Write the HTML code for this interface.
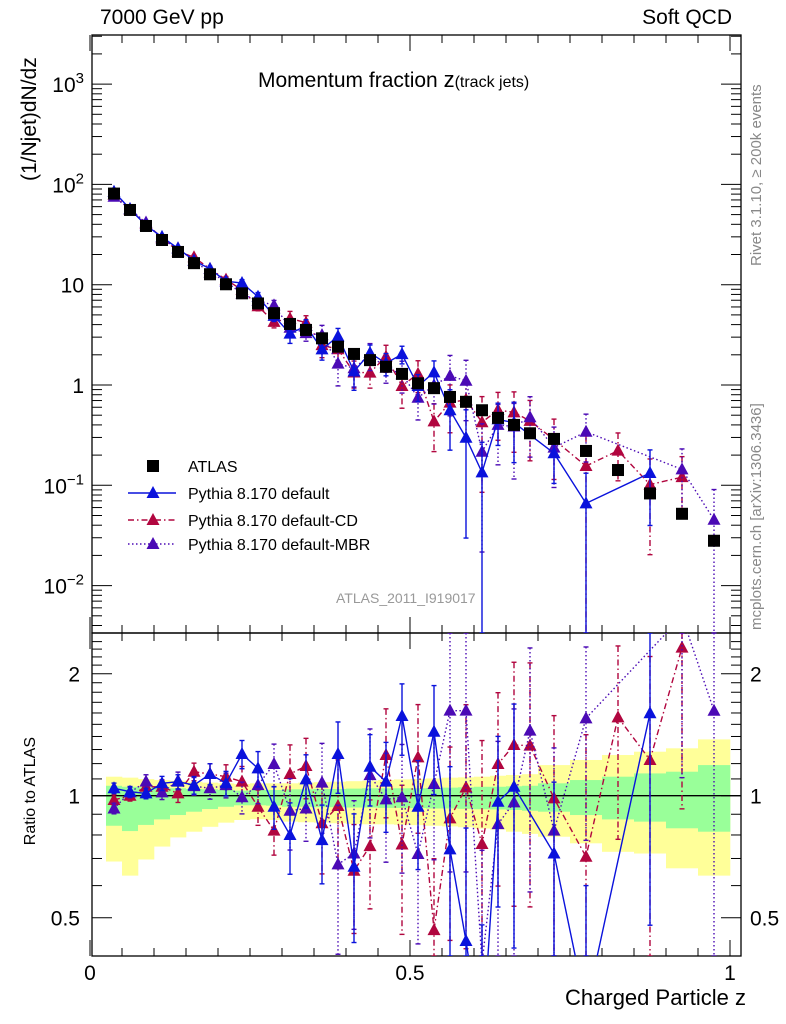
<!DOCTYPE html>
<html><head><meta charset="utf-8"><style>
html,body{margin:0;padding:0;background:#fff;width:786px;height:1024px;overflow:hidden;position:relative;}
svg{display:block;font-family:"Liberation Sans",sans-serif;}
</style></head><body>
<svg id="c" width="786" height="1024" viewBox="0 0 786 1024"></svg>
<script>
const zCenters=[0.0375,0.0625,0.0875,0.1125,0.1375,0.1625,0.1875,0.2125,0.2375,0.2625,0.2875,0.3125,0.3375,0.3625,0.3875,0.4125,0.4375,0.4625,0.4875,0.5125,0.5375,0.5625,0.5875,0.6125,0.6375,0.6625,0.6875,0.725,0.775,0.825,0.875,0.925,0.975];
const binEdges=[0.025,0.05,0.075,0.1,0.125,0.15,0.175,0.2,0.225,0.25,0.275,0.3,0.325,0.35,0.375,0.4,0.425,0.45,0.475,0.5,0.525,0.55,0.575,0.6,0.625,0.65,0.675,0.7,0.75,0.8,0.85,0.9,0.95,1.0];
const atlasVals=[81,55.6,38.5,27.9,21.2,16.4,12.7,10.1,8.2,6.5,5.2,4.06,3.54,2.92,2.41,2.04,1.77,1.52,1.29,1.04,0.93,0.76,0.68,0.56,0.47,0.40,0.33,0.29,0.22,0.142,0.083,0.052,0.028];
const ratioDefault=[1.043,1.023,1.013,1.073,1.083,1.062,1.131,1.073,1.267,1.168,0.939,0.800,1.097,0.777,1.267,0.668,1.179,1.083,1.573,0.939,1.438,0.737,0.438,0.24,0.966,1.052,null,0.72,0.30,null,1.597,null,null];
const ratioCD=[0.976,1.0,1.052,1.052,1.013,1.146,1.131,1.114,1.083,0.939,0.820,1.131,1.184,0.855,0.943,0.653,0.751,1.260,0.758,1.243,0.466,0.879,1.048,0.760,1.197,1.334,1.329,0.985,0.707,1.561,1.225,2.32,null];
const ratioMBR=[0.930,1.019,1.083,1.019,1.089,1.056,1.043,1.062,0.991,1.062,1.197,0.918,0.930,1.077,0.677,0.720,1.124,0.979,0.991,0.718,1.069,1.621,1.621,0.386,0.851,0.963,1.447,0.820,1.552,null,null,2.77,1.62];
const errDefault=[.03,.03,.03,.04,.04,.05,.06,.07,.08,.1,.12,.2,.15,.22,.2,.35,.2,.25,.2,.3,.3,.6,.9,1.0,.45,.6,0,.5,1.0,0,.7,0,0];
const errCD=[.03,.03,.04,.04,.05,.05,.06,.07,.09,.1,.13,.18,.17,.25,.3,.3,.3,.3,.4,.35,.5,.5,.6,.8,.5,.6,.6,.6,1.0,.5,.8,.6,0];
const errMBR=[.03,.03,.04,.04,.05,.05,.06,.07,.09,.1,.12,.2,.17,.25,.4,.35,.3,.3,.35,.4,.35,.6,.6,.9,.6,.7,.6,.6,.5,0,0,.6,1.0];
const greenUp=[1.058,1.052,1.049,1.049,1.043,1.039,1.037,1.033,1.029,1.033,1.033,1.037,1.037,1.039,1.039,1.041,1.043,1.043,1.043,1.043,1.045,1.047,1.049,1.052,1.052,1.055,1.058,1.073,1.093,1.114,1.135,1.146,1.190];
const greenLo=[0.843,0.818,0.847,0.874,0.896,0.913,0.927,0.939,0.947,0.947,0.945,0.939,0.939,0.937,0.937,0.935,0.935,0.933,0.933,0.932,0.930,0.930,0.928,0.926,0.925,0.922,0.918,0.913,0.896,0.874,0.863,0.831,0.815];
const yellowUp=[1.114,1.108,1.099,1.093,1.089,1.083,1.077,1.073,1.068,1.073,1.073,1.073,1.077,1.08,1.083,1.086,1.089,1.093,1.097,1.10,1.103,1.108,1.11,1.114,1.12,1.125,1.13,1.19,1.225,1.26,1.284,1.309,1.377];
const yellowLo=[0.688,0.635,0.696,0.749,0.789,0.815,0.838,0.858,0.871,0.875,0.871,0.863,0.86,0.858,0.855,0.852,0.85,0.85,0.848,0.846,0.843,0.84,0.836,0.83,0.825,0.815,0.805,0.792,0.763,0.727,0.720,0.662,0.635];
const mainTickLabels=["10⁻²","10⁻¹","1","10","10²","10³"];
const mainTickVals=[0.01,0.1,1,10,100,1000];
const ratioTickVals=[0.5,1,2];
const xTickLabels=["0","0.5","1"];
const xTickVals=[0,0.5,1];

const L=92,R=741,T=35,MB=633,RB=956;
const NS="http://www.w3.org/2000/svg";
const svg=document.getElementById('c');
function X(z){return 90+640*z;}
function Ym(v){return 385-100.3*Math.log10(v);}
function Yr(r){return 795.7-122*Math.log2(r);}
function cl(y,a,b){return Math.min(Math.max(y,a),b);}
function el(tag,attrs,parent){const e=document.createElementNS(NS,tag);for(const k in attrs)e.setAttribute(k,attrs[k]);(parent||svg).appendChild(e);return e;}
function txt(s,attrs,parent){const e=el('text',attrs,parent);e.textContent=s;return e;}

const defs=el('defs',{});
const cm=el('clipPath',{id:'cm'},defs);el('rect',{x:L,y:T,width:R-L,height:MB-T},cm);
const cr=el('clipPath',{id:'cr'},defs);el('rect',{x:L,y:MB,width:R-L,height:RB-MB},cr);

const bands=el('g',{'clip-path':'url(#cr)'});


for(let i=0;i<zCenters.length;i++){
  const x0=X(binEdges[i]),x1=X(binEdges[i+1]);
  const y=el('rect',{x:x0,y:Yr(yellowUp[i]),width:x1-x0+0.3,height:Yr(yellowLo[i])-Yr(yellowUp[i]),fill:'#ffff99'},bands);
  
  
  const g=el('rect',{x:x0,y:Yr(greenUp[i]),width:x1-x0+0.3,height:Yr(greenLo[i])-Yr(greenUp[i]),fill:'#99ff99'},bands);
  
  
}
el('line',{x1:L,x2:R,y1:Yr(1),y2:Yr(1),stroke:'#000','stroke-width':1.3});

const fm=el('rect',{x:L,y:T,width:R-L,height:MB-T,fill:'none',stroke:'#000','stroke-width':1.3});


const fr=el('rect',{x:L,y:MB,width:R-L,height:RB-MB,fill:'none',stroke:'#000','stroke-width':1.3});



for(let k=0;k<=20;k++){
  const z=k*0.05, x=X(z), maj=(k%10===0), len=maj?16:8;
  for(const [yb,yt] of [[MB,T],[RB,MB]]){
    el('line',{x1:x,x2:x,y1:yb,y2:yb-len,stroke:'#000'});
    el('line',{x1:x,x2:x,y1:yt,y2:yt+len,stroke:'#000'});
  }
}
xTickVals.forEach((v,i)=>{const t=txt(xTickLabels[i],{x:X(v),y:980,'font-size':21,'text-anchor':'middle'});

});

for(let e=-3;e<=3;e++){
  for(let m=1;m<10;m++){
    const v=m*Math.pow(10,e), y=Ym(v);
    if(y<T||y>MB)continue;
    const len=m===1?20:10;
    el('line',{x1:L,x2:L+len,y1:y,y2:y,stroke:'#000'});
    el('line',{x1:R,x2:R-len,y1:y,y2:y,stroke:'#000'});
  }
}
mainTickVals.forEach((v,i)=>{
  const lab=mainTickLabels[i];let t;
  if(lab.startsWith('10')&&lab.length>2){
    t=txt('',{x:84,y:Ym(v)+8,'font-size':21,'text-anchor':'end'});
    const a=el('tspan',{},t);a.textContent='10';
    const b=el('tspan',{dy:-9,'font-size':15},t);b.textContent=lab.slice(2).replace('⁻','−').replace('¹','1').replace('²','2').replace('³','3');
  } else t=txt(lab,{x:84,y:Ym(v)+8,'font-size':21,'text-anchor':'end'});
  
  
});

const rminor=[0.5,0.6,0.7,0.8,0.9,1,1.1,1.2,1.3,1.4,1.5,1.6,1.7,1.8,1.9,2,2.1,2.2,2.3,2.4];
rminor.forEach(v=>{const y=Yr(v);const maj=(v===0.5||v===1||v===2);const len=maj?20:10;
  el('line',{x1:L,x2:L+len,y1:y,y2:y,stroke:'#000'});el('line',{x1:R,x2:R-len,y1:y,y2:y,stroke:'#000'});});
ratioTickVals.forEach(v=>{
  const a=txt(String(v),{x:80,y:Yr(v)+8,'font-size':21,'text-anchor':'end'});
  
  
  const b=txt(String(v),{x:750,y:Yr(v)+8,'font-size':21});
  
  
});

function tri(g,x,y,col){el('polygon',{points:`${x},${y-7} ${x-6.5},${y+5} ${x+6.5},${y+5}`,fill:col},g);}
function drawSeries(name,ratios,errs,col,dash){
  const gm=el('g',{'clip-path':'url(#cm)'});
  
  
  const gr=el('g',{'clip-path':'url(#cr)'});
  
  
  let pm=[],pr=[];
  for(let i=0;i<zCenters.length;i++){
    if(ratios[i]==null)continue;
    const x=X(zCenters[i]);const v=ratios[i]*atlasVals[i];
    pm.push([x,Ym(v)]);pr.push([x,Yr(ratios[i])]);
  }
  el('polyline',{points:pm.map(p=>p.join(',')).join(' '),fill:'none',stroke:col,'stroke-width':1.4,'stroke-dasharray':dash},gm);
  el('polyline',{points:pr.map(p=>p.join(',')).join(' '),fill:'none',stroke:col,'stroke-width':1.4,'stroke-dasharray':dash},gr);
  for(let i=0;i<zCenters.length;i++){
    if(ratios[i]==null)continue;
    const x=X(zCenters[i]);const v=ratios[i]*atlasVals[i];const e=errs[i];
    const lo=Math.max(1-e,0.001),hi=1+e;
    [[gm,cl(Ym(v*hi),T,MB),cl(Ym(v*lo),T,MB),Ym(v)],[gr,cl(Yr(ratios[i]*hi),MB,RB),cl(Yr(ratios[i]*lo),MB,RB),Yr(ratios[i])]].forEach(([g,y1,y2,y])=>{
      if(e>0){el('line',{x1:x,x2:x,y1:y1,y2:y2,stroke:col,'stroke-width':1.4,'stroke-dasharray':dash},g);
      el('line',{x1:x-2.5,x2:x+2.5,y1:y1,y2:y1,stroke:col,'stroke-width':1.4},g);
      el('line',{x1:x-2.5,x2:x+2.5,y1:y2,y2:y2,stroke:col,'stroke-width':1.4},g);}
      tri(g,x,y,col);
    });
  }
}
drawSeries('pythia-default-cd',ratioCD,errCD,'#b1063f','6,3,1.5,3');
drawSeries('pythia-default-mbr',ratioMBR,errMBR,'#4b0ab5','1.5,2.5');
drawSeries('pythia-default',ratioDefault,errDefault,'#0a12dc','');

const gd=el('g',{'clip-path':'url(#cm)'});


for(let i=0;i<zCenters.length;i++){
  const r=el('rect',{x:X(zCenters[i])-6,y:Ym(atlasVals[i])-6,width:12,height:12,fill:'#000'},gd);
  
  
}

const lg=el('g',{});


const ent=[['ATLAS',null,'',466],['Pythia 8.170 default','#0a12dc','',493],['Pythia 8.170 default-CD','#b1063f','6,3,1.5,3',520],['Pythia 8.170 default-MBR','#4b0ab5','1.5,2.5',544]];
ent.forEach(([lab,col,dash,y])=>{
  const g=el('g',{},lg);
  
  
  if(col==null){el('rect',{x:147,y:y-6,width:12,height:12,fill:'#000'},g);}
  else{el('line',{x1:128,x2:176,y1:y,y2:y,stroke:col,'stroke-width':1.4,'stroke-dasharray':dash},g);tri(g,153,y,col);}
  txt(lab,{x:188,y:y+6,'font-size':16},g);
});
</script>
<div style="position:absolute;left:0;top:0;width:786px;height:1024px;overflow:hidden;pointer-events:none;font-family:'Liberation Sans',sans-serif;">
<div style="position:absolute;left:100px;top:6px;font-size:21px;">7000 GeV pp</div>
<div style="position:absolute;right:54px;top:6px;font-size:21px;">Soft QCD</div>
<div style="position:absolute;left:258px;top:67px;font-size:21px;white-space:nowrap;">Momentum fraction <span style="font-size:22px">z</span><span style="font-size:16px">(track jets)</span></div>
<div style="position:absolute;left:18px;top:35px;font-size:21px;writing-mode:vertical-rl;transform:rotate(180deg);height:146px;white-space:nowrap;text-align:left;">(1/Njet)dN/dz</div>
<div style="position:absolute;left:22px;top:737px;font-size:16px;writing-mode:vertical-rl;transform:rotate(180deg);white-space:nowrap;">Ratio to ATLAS</div>
<div style="position:absolute;right:40px;top:985px;font-size:22px;white-space:nowrap;">Charged Particle z</div>
<div style="position:absolute;left:336px;top:590px;font-size:14px;color:#999;">ATLAS_2011_I919017</div>
<div style="position:absolute;left:748px;top:36px;font-size:15px;color:#888;writing-mode:vertical-rl;transform:rotate(180deg);height:230px;white-space:nowrap;">Rivet 3.1.10, ≥ 200k events</div>
<div style="position:absolute;left:748px;top:343px;font-size:15px;color:#888;writing-mode:vertical-rl;transform:rotate(180deg);height:287px;white-space:nowrap;">mcplots.cern.ch [arXiv:1306.3436]</div>
</div>
</body></html>
